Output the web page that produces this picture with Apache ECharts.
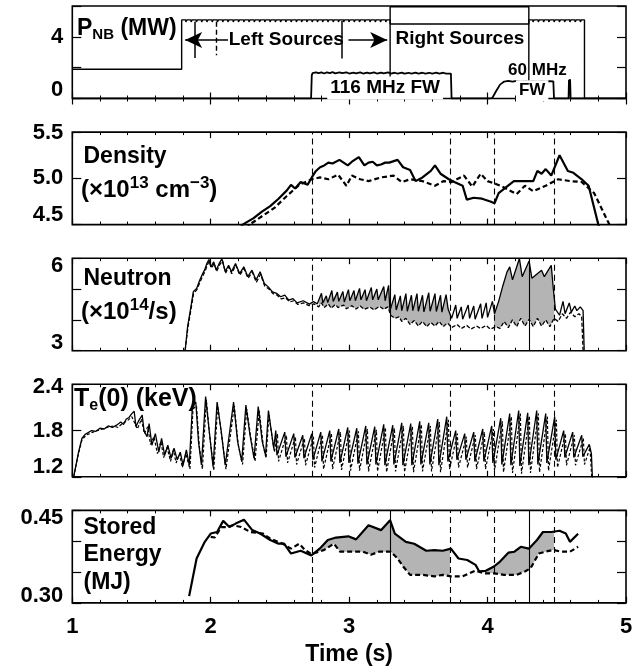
<!DOCTYPE html>
<html><head><meta charset="utf-8">
<script src="https://cdn.jsdelivr.net/npm/echarts@6/dist/echarts.min.js"></script>
<style>html,body{margin:0;padding:0;background:#fff}#c{width:643px;height:670px}</style>
</head><body><div id="c"></div><script>
const FONT = "'Liberation Sans', Arial, Helvetica, sans-serif";

// ---------------- data ----------------
const xTickLabels = [1, 2, 3, 4, 5];
const dashedTimes = [2.727, 3.729, 4.046, 4.481];
const solidTimes = [3.296, 4.298];

// Panel 1: P_NB (MW)
const nbTicks = [0, 4];
const nbLeft = [[1.00,1.90],[1.790,1.90],[1.790,5.10],
[1.820,4.96],[1.828,5.10],[1.858,4.96],[1.866,5.10],[1.896,4.96],[1.904,5.10],[1.934,4.96],[1.942,5.10],
[1.972,4.96],[1.980,5.10],[2.010,4.96],[2.018,5.10],[2.048,4.96],[2.056,5.10],[2.086,4.96],[2.094,5.10],
[2.124,4.96],[2.132,5.10],[2.162,4.96],[2.170,5.10],[2.200,4.96],[2.208,5.10],[2.238,4.96],[2.246,5.10],
[2.276,4.96],[2.284,5.10],[2.314,4.96],[2.322,5.10],[2.352,4.96],[2.360,5.10],[2.390,4.96],[2.398,5.10],
[2.428,4.96],[2.436,5.10],[2.466,4.96],[2.474,5.10],[2.504,4.96],[2.512,5.10],[2.542,4.96],[2.550,5.10],
[2.580,4.96],[2.588,5.10],[2.618,4.96],[2.626,5.10],[2.656,4.96],[2.664,5.10],[2.694,4.96],[2.702,5.10],
[2.732,4.96],[2.740,5.10],[2.770,4.96],[2.778,5.10],[2.808,4.96],[2.816,5.10],[2.846,4.96],[2.854,5.10],
[2.884,4.96],[2.892,5.10],[2.922,4.96],[2.930,5.10],[2.960,4.96],[2.968,5.10],[2.998,4.96],[3.006,5.10],
[3.036,4.96],[3.044,5.10],[3.074,4.96],[3.082,5.10],[3.112,4.96],[3.120,5.10],[3.150,4.96],[3.158,5.10],
[3.188,4.96],[3.196,5.10],[3.226,4.96],[3.234,5.10],[3.264,4.96],[3.272,5.10],
[3.296,4.83],[4.298,5.10],
[4.328,4.96],[4.336,5.10],[4.366,4.96],[4.374,5.10],[4.404,4.96],[4.412,5.10],[4.442,4.96],[4.450,5.10],
[4.480,4.96],[4.488,5.10],[4.518,4.96],[4.526,5.10],[4.556,4.96],[4.564,5.10],[4.594,4.96],[4.602,5.10],
[4.632,4.96],[4.640,5.10],[4.670,4.96],[4.678,5.10],[4.700,0],[5.00,0]];
const nbRight = [[3.296,0],[3.296,5.95],[4.298,5.95],[4.298,0]];
const fw116 = [[1.00,0],[2.725,0],[2.730,1.50],[2.735,1.64],[2.76,1.70],[2.78,1.64],[2.80,1.69],[2.82,1.62],
[2.84,1.70],[2.86,1.65],[2.88,1.71],[2.90,1.63],[2.93,1.69],[2.95,1.64],[2.98,1.70],[3.00,1.62],[3.03,1.68],
[3.05,1.63],[3.08,1.69],[3.10,1.62],[3.13,1.68],[3.15,1.63],[3.18,1.69],[3.20,1.62],[3.23,1.68],[3.25,1.63],
[3.28,1.69],[3.30,1.62],[3.33,1.67],[3.35,1.62],[3.38,1.68],[3.40,1.61],[3.43,1.67],[3.45,1.62],[3.48,1.68],
[3.50,1.62],[3.53,1.67],[3.55,1.61],[3.58,1.67],[3.60,1.62],[3.63,1.68],[3.65,1.62],[3.68,1.67],[3.70,1.61],
[3.735,1.62],[3.740,0],[4.02,0]];
const fw60 = [[4.02,0],[4.035,0.05],[4.06,0.45],[4.09,0.90],[4.12,1.10],[4.15,1.14],[4.18,1.10],[4.21,1.14],
[4.24,1.10],[4.27,1.13],[4.30,1.09],[4.33,1.13],[4.36,1.10],[4.39,1.13],[4.42,1.09],[4.45,1.12],[4.475,1.11],
[4.480,0],[4.585,0],[4.588,1.22],[4.592,0.95],[4.596,1.25],[4.600,0],[5.00,0]];

// Panel 2: Density (1e13 cm^-3)
const densTicks = [4.5, 5.0, 5.5];
const densSolid = [[2.15,4.30],[2.23,4.50],[2.31,4.57],[2.37,4.64],[2.43,4.70],[2.49,4.78],[2.55,4.87],[2.58,4.93],
[2.61,4.89],[2.65,4.96],[2.70,4.93],[2.73,5.01],[2.76,5.08],[2.79,5.12],[2.82,5.14],[2.85,5.17],[2.88,5.16],
[2.93,5.20],[2.96,5.17],[2.99,5.14],[3.02,5.18],[3.07,5.23],[3.11,5.14],[3.14,5.17],[3.17,5.18],[3.20,5.14],
[3.23,5.15],[3.26,5.17],[3.29,5.17],[3.35,5.20],[3.39,5.12],[3.44,5.09],[3.48,4.97],[3.53,5.01],[3.59,5.08],
[3.62,5.14],[3.66,5.05],[3.72,4.99],[3.76,4.96],[3.82,4.92],[3.85,4.77],[3.90,4.79],[3.96,4.78],[4.02,4.75],
[4.05,4.73],[4.08,4.84],[4.13,4.90],[4.19,4.97],[4.33,4.97],[4.36,5.08],[4.39,5.05],[4.42,5.10],[4.46,5.03],
[4.52,5.25],[4.58,5.08],[4.62,5.06],[4.68,4.99],[4.73,4.92],[4.80,4.50],[4.84,4.30]];
const densDashed = [[2.20,4.30],[2.28,4.50],[2.37,4.59],[2.46,4.68],[2.55,4.81],[2.64,4.93],[2.73,4.99],[2.79,5.01],
[2.85,4.99],[2.92,5.04],[2.98,4.92],[3.02,5.03],[3.08,4.99],[3.14,4.97],[3.23,5.01],[3.32,5.03],[3.38,4.96],
[3.44,4.99],[3.53,4.97],[3.62,4.92],[3.68,4.97],[3.74,4.96],[3.83,5.03],[3.89,4.91],[3.95,5.05],[4.00,4.97],
[4.06,4.94],[4.12,4.90],[4.21,4.83],[4.27,4.92],[4.33,4.86],[4.42,4.92],[4.51,4.99],[4.60,4.97],[4.68,4.96],
[4.77,4.84],[4.88,4.50],[4.92,4.35]];

// Panel 3: Neutron (1e14/s)
const neutTicks = [3, 6];
const neutSolid = [[1.815,3.0],[1.833,3.78],[1.853,4.32],[1.874,4.91],[1.898,5.02],[1.921,5.29],[1.942,5.50],
[1.957,5.63],[1.972,5.83],[1.987,5.96],[2.001,5.72],[2.022,5.88],[2.040,5.61],[2.061,5.83],[2.081,5.98],
[2.105,5.56],[2.129,5.77],[2.150,5.56],[2.179,5.83],[2.209,5.50],[2.239,5.72],[2.268,5.40],[2.298,5.61],
[2.327,5.29],[2.357,5.56],[2.387,5.18],[2.416,5.07],[2.446,4.91],[2.476,4.86],[2.505,4.75],[2.535,4.80],
[2.564,4.64],[2.594,4.69],[2.624,4.55],[2.668,4.62],[2.713,4.51],[2.742,4.59],
[2.77,4.52],[2.80,4.86],[2.81,4.55],[2.835,4.78],[2.845,4.56],[2.875,4.95],[2.885,4.60],[2.915,4.90],
[2.925,4.60],[2.955,4.92],[2.965,4.58],[2.995,4.98],[3.005,4.62],[3.035,4.95],[3.045,4.62],[3.075,5.02],
[3.085,4.65],[3.115,4.98],[3.125,4.62],[3.16,5.05],[3.17,4.65],[3.20,5.00],[3.21,4.65],[3.25,5.08],
[3.26,4.62],[3.285,5.12],
[3.295,4.30],[3.33,4.82],[3.34,4.32],[3.37,4.78],[3.38,4.30],[3.41,4.85],[3.42,4.28],[3.45,4.80],[3.46,4.30],
[3.49,4.85],[3.50,4.28],[3.53,4.80],[3.54,4.26],[3.575,4.88],[3.585,4.28],[3.62,4.85],[3.63,4.27],[3.66,4.80],
[3.67,4.25],[3.70,4.82],[3.715,4.35],
[3.74,4.05],[3.77,4.48],[3.78,4.05],[3.81,4.42],[3.82,4.02],[3.86,4.48],[3.87,4.05],[3.90,4.45],[3.91,4.02],
[3.95,4.52],[3.96,4.05],[3.99,4.55],[4.00,4.08],[4.035,4.60],
[4.05,4.20],[4.08,4.60],[4.11,5.10],[4.14,5.55],[4.16,5.72],[4.18,5.30],[4.23,5.99],[4.25,5.40],[4.30,5.91],
[4.32,5.35],[4.39,5.61],[4.41,5.40],[4.46,5.77],[4.475,5.00],[4.49,4.35],
[4.52,4.15],[4.545,4.60],[4.56,4.20],[4.59,4.55],[4.605,4.25],[4.63,4.45],[4.645,4.30],[4.67,4.42],[4.69,4.30],
[4.698,3.0]];
const neutDashed = [[1.815,3.0],[1.835,3.75],[1.855,4.28],[1.876,4.85],[1.90,4.98],[1.925,5.25],[1.945,5.45],
[1.96,5.58],[1.975,5.78],[1.99,5.90],[2.005,5.68],[2.025,5.82],[2.043,5.58],[2.064,5.78],[2.085,5.92],
[2.108,5.52],[2.13,5.72],[2.152,5.50],[2.18,5.78],[2.21,5.45],[2.24,5.66],[2.27,5.35],[2.30,5.55],[2.33,5.22],
[2.36,5.48],[2.39,5.10],[2.42,5.00],[2.45,4.85],[2.48,4.80],[2.51,4.68],[2.54,4.72],[2.57,4.58],[2.60,4.62],
[2.63,4.50],[2.67,4.55],[2.71,4.46],[2.745,4.52],
[2.78,4.42],[2.80,4.55],[2.82,4.40],[2.85,4.52],[2.87,4.38],[2.90,4.50],[2.92,4.40],[2.96,4.48],[2.98,4.36],
[3.02,4.46],[3.05,4.35],[3.08,4.45],[3.11,4.34],[3.15,4.42],[3.18,4.32],[3.22,4.44],[3.25,4.34],[3.28,4.42],
[3.30,4.15],[3.33,4.05],[3.36,4.10],[3.38,3.95],[3.41,4.05],[3.44,3.85],[3.47,3.98],[3.50,3.80],[3.53,3.95],
[3.56,3.78],[3.59,3.92],[3.62,3.80],[3.65,3.95],[3.68,3.78],[3.71,3.90],[3.74,3.75],[3.78,3.85],[3.81,3.72],
[3.85,3.82],[3.88,3.70],[3.92,3.80],[3.95,3.72],[3.99,3.82],[4.02,3.70],[4.06,3.78],[4.09,3.72],[4.12,3.95],
[4.15,3.75],[4.18,4.00],[4.21,3.78],[4.24,4.05],[4.27,3.80],[4.30,4.02],[4.33,3.78],[4.36,4.05],[4.39,3.80],
[4.42,4.00],[4.45,3.78],[4.48,4.05],[4.51,3.95],[4.54,4.20],[4.57,4.05],[4.60,4.25],[4.63,4.10],[4.66,4.20],
[4.68,4.10],[4.69,3.0]];
const neutFill = [[2.78, 3.729], [4.046, 4.481]];

// Panel 4: Te(0) (keV)
const teTicks = [1.2, 1.8, 2.4];
const teSolid = [[1.00,1.10],[1.01,1.20],[1.045,1.52],[1.07,1.70],[1.093,1.75],[1.14,1.80],[1.17,1.79],[1.20,1.83],
[1.23,1.82],[1.26,1.86],[1.29,1.84],[1.32,1.87],[1.35,1.91],[1.37,1.88],[1.39,1.95],[1.41,1.97],[1.43,2.02],
[1.447,2.05],[1.46,1.85],[1.48,1.93],[1.505,2.00],[1.518,1.80],[1.54,1.72],[1.555,1.89],[1.575,1.61],[1.60,1.76],
[1.625,1.52],[1.645,1.70],[1.667,1.48],[1.69,1.61],[1.714,1.44],[1.735,1.57],[1.758,1.42],[1.78,1.52],[1.80,1.35],
[1.824,1.55],[1.845,1.35],[1.868,2.13],[1.892,2.17],[1.912,1.65],[1.933,1.35],[1.963,2.24],[1.987,1.83],
[2.017,1.33],[2.046,2.17],[2.076,1.79],[2.105,1.35],[2.165,2.17],[2.194,1.66],[2.224,1.40],[2.254,2.13],
[2.283,1.75],[2.313,1.44],[2.343,2.11],[2.372,1.66],[2.396,1.48],[2.417,2.06],[2.455,1.57],
[2.470,1.80],[2.478,1.48],[2.535,1.78],[2.543,1.46],[2.600,1.76],[2.608,1.45],[2.665,1.74],[2.673,1.44],
[2.730,1.76],[2.738,1.42],[2.795,1.78],[2.803,1.40],[2.860,1.80],[2.868,1.40],[2.925,1.82],[2.933,1.38],
[2.990,1.84],[2.998,1.38],[3.055,1.83],[3.063,1.37],[3.120,1.86],[3.128,1.36],[3.185,1.85],[3.193,1.36],
[3.250,1.88],[3.258,1.35],[3.315,1.87],[3.323,1.36],[3.380,1.90],[3.388,1.35],[3.445,1.89],[3.453,1.35],
[3.510,1.92],[3.518,1.36],[3.575,1.90],[3.583,1.36],[3.640,1.95],[3.648,1.35],[3.705,1.98],[3.713,1.40],
[3.770,1.80],[3.778,1.42],[3.835,1.76],[3.843,1.42],[3.900,1.78],[3.908,1.40],[3.965,1.82],[3.973,1.40],
[4.030,1.86],[4.038,1.38],[4.095,1.96],[4.103,1.36],[4.160,2.02],[4.168,1.35],[4.225,2.06],[4.233,1.34],
[4.290,2.03],[4.298,1.35],[4.355,2.06],[4.363,1.36],[4.420,2.02],[4.428,1.38],[4.485,1.98],[4.493,1.42],
[4.550,1.80],[4.558,1.45],[4.615,1.78],[4.623,1.45],[4.680,1.74],[4.688,1.46],[4.735,1.62],[4.750,1.50],
[4.757,1.20],[4.76,1.10]];
const teDashed = [[1.01,1.20],[1.045,1.50],[1.07,1.68],[1.10,1.74],[1.15,1.78],[1.20,1.81],[1.25,1.84],[1.30,1.86],
[1.33,1.84],[1.36,1.89],[1.40,1.93],[1.43,1.98],[1.45,1.90],[1.47,1.82],[1.50,1.95],[1.52,1.76],[1.545,1.85],
[1.565,1.62],[1.59,1.72],[1.615,1.50],[1.64,1.66],[1.66,1.45],[1.685,1.58],[1.71,1.40],[1.73,1.55],[1.75,1.38],
[1.775,1.50],[1.795,1.32],[1.82,1.50],[1.85,1.30],[1.872,2.08],[1.897,2.12],[1.917,1.60],[1.94,1.30],[1.968,2.20],
[1.99,1.78],[2.022,1.28],[2.05,2.12],[2.08,1.72],[2.11,1.30],[2.17,2.12],[2.20,1.60],[2.23,1.36],[2.26,2.08],
[2.29,1.70],[2.32,1.40],[2.35,2.06],[2.38,1.60],[2.40,1.44],[2.42,2.00],[2.46,1.52],
[2.482,1.76],[2.490,1.40],[2.547,1.74],[2.555,1.38],[2.612,1.72],[2.620,1.36],[2.677,1.70],[2.685,1.35],
[2.742,1.72],[2.750,1.32],[2.807,1.74],[2.815,1.30],[2.872,1.76],[2.880,1.30],[2.937,1.78],[2.945,1.29],
[3.002,1.80],[3.010,1.28],[3.067,1.79],[3.075,1.28],[3.132,1.82],[3.140,1.27],[3.197,1.81],[3.205,1.27],
[3.262,1.84],[3.270,1.26],[3.327,1.83],[3.335,1.27],[3.392,1.86],[3.400,1.26],[3.457,1.85],[3.465,1.26],
[3.522,1.88],[3.530,1.27],[3.587,1.86],[3.595,1.27],[3.652,1.91],[3.660,1.26],[3.717,1.94],[3.725,1.30],
[3.782,1.76],[3.790,1.32],[3.847,1.72],[3.855,1.32],[3.912,1.74],[3.920,1.30],[3.977,1.78],[3.985,1.30],
[4.042,1.82],[4.050,1.28],[4.107,1.92],[4.115,1.26],[4.172,1.98],[4.180,1.25],[4.237,2.02],[4.245,1.24],
[4.302,1.99],[4.310,1.25],[4.367,2.02],[4.375,1.26],[4.432,1.98],[4.440,1.28],[4.497,1.94],[4.505,1.32],
[4.562,1.76],[4.570,1.35],[4.627,1.74],[4.635,1.35],[4.692,1.70],[4.700,1.36],[4.740,1.58],[4.752,1.20]];

// Panel 5: Stored energy (MJ)
const seTicks = [0.30, 0.45];
const seSolid = [[1.844,0.311],[1.898,0.372],[1.957,0.399],[2.00,0.4125],[2.046,0.415],[2.09,0.433],[2.135,0.423],
[2.18,0.4286],[2.24,0.435],[2.30,0.418],[2.357,0.4125],[2.43,0.402],[2.49,0.396],[2.53,0.396],[2.58,0.380],
[2.65,0.3846],[2.727,0.377],[2.787,0.388],[2.846,0.402],[2.905,0.406],[2.994,0.408],[3.05,0.403],[3.14,0.426],
[3.23,0.418],[3.296,0.434],[3.33,0.4125],[3.41,0.399],[3.47,0.396],[3.557,0.3846],[3.616,0.3857],[3.676,0.3846],
[3.735,0.388],[3.79,0.372],[3.853,0.3696],[3.913,0.3616],[3.94,0.351],[3.987,0.352],[4.046,0.359],[4.09,0.367],
[4.15,0.3814],[4.194,0.383],[4.24,0.391],[4.298,0.388],[4.357,0.402],[4.40,0.415],[4.46,0.415],[4.52,0.417],
[4.565,0.4125],[4.595,0.399],[4.654,0.412]];
const seDashed = [[2.00,0.407],[2.03,0.406],[2.076,0.423],[2.12,0.423],[2.16,0.426],[2.22,0.423],[2.286,0.415],
[2.376,0.4125],[2.43,0.404],[2.52,0.396],[2.58,0.388],[2.64,0.396],[2.68,0.386],[2.727,0.379],[2.82,0.386],
[2.89,0.396],[2.935,0.383],[3.02,0.383],[3.10,0.383],[3.157,0.378],[3.216,0.383],[3.30,0.383],[3.35,0.372],
[3.39,0.359],[3.44,0.3455],[3.53,0.3455],[3.616,0.343],[3.676,0.3455],[3.735,0.343],[3.82,0.343],[3.913,0.3525],
[3.97,0.348],[4.046,0.348],[4.12,0.3455],[4.21,0.3455],[4.27,0.351],[4.31,0.356],[4.37,0.380],[4.416,0.383],
[4.475,0.386],[4.53,0.383],[4.595,0.383],[4.654,0.391]];
const seFill = [[2.76, 3.729], [3.99, 4.481]];

// ---------------- layout / style ----------------
const tops = [6, 132.1, 258.2, 384.3, 510.4];
const H = 92.5;
const panels = [
  {min:0, max:6, interval:2, ticks:nbTicks, dec:0, lo:17, hi:0},
  {min:4.5, max:5.5, interval:0.5, ticks:densTicks, dec:1, lo:20, hi:2},
  {min:3, max:6, interval:1, ticks:neutTicks, dec:0, lo:15, hi:16},
  {min:1.2, max:2.4, interval:0.6, ticks:teTicks, dec:1, lo:20, hi:6},
  {min:0.30, max:0.45, interval:0.05, ticks:seTicks, dec:2, lo:13, hi:15}
];

const grids = tops.map(t => ({left:72.3, right:17, top:t, height:H, show:true,
  borderColor:'#000', borderWidth:1.6, backgroundColor:'rgba(0,0,0,0)'}));

const xAxes = [], yAxes = [];
panels.forEach((p, i) => {
  ['bottom','top'].forEach(pos => {
    const main = (i === 4 && pos === 'bottom');
    xAxes.push({type:'value', gridIndex:i, position:pos, min:1, max:5, interval:1,
      axisLine:{show:false}, splitLine:{show:false},
      axisTick:{show:true, inside:true, length:6, lineStyle:{color:'#000', width:1.2}},
      minorTick:{show:true, splitNumber:5, length:3, lineStyle:{color:'#000', width:1}},
      axisLabel: main ? {show:true, margin:13, color:'#000', fontSize:22, fontWeight:'bold', fontFamily:FONT,
        formatter: v => xTickLabels.indexOf(Math.round(v)) >= 0 && Math.abs(v-Math.round(v))<1e-6 ? String(Math.round(v)) : ''} : {show:false},
      name: main ? 'Time (s)' : '', nameLocation:'middle', nameGap:40,
      nameTextStyle:{color:'#000', fontSize:23, fontWeight:'bold', fontFamily:FONT}
    });
  });
  ['left','right'].forEach(pos => {
    const main = pos === 'left';
    yAxes.push({type:'value', gridIndex:i, position:pos, min:p.min, max:p.max, interval:p.interval,
      axisLine:{show:false}, splitLine:{show:false},
      axisTick:{show:true, inside:true, length:9, lineStyle:{color:'#000', width:1.2}},
      axisLabel: main ? {show:true, margin:9, color:'#000', fontSize:22, fontWeight:'bold', fontFamily:FONT,
        formatter: v => {
          const k = p.ticks.findIndex(t => Math.abs(t - v) < 1e-6);
          if (k < 0) return '';
          const s = p.ticks[k].toFixed(p.dec);
          if (Math.abs(v - p.min) < 1e-6) return '{lo|' + s + '}';
          if (Math.abs(v - p.max) < 1e-6) return '{hi|' + s + '}';
          return s;
        },
        rich:{
          lo:{fontSize:22, fontWeight:'bold', fontFamily:FONT, color:'#000', padding:[0,0,p.lo,0]},
          hi:{fontSize:22, fontWeight:'bold', fontFamily:FONT, color:'#000', padding:[p.hi,0,0,0]}
        }} : {show:false}
    });
  });
});

function vlines(times, type) {
  return times.map(t => ({xAxis:t, lineStyle:{color:'#000', width:1.1, type:type}}));
}
function ml(data, style) {
  return {silent:true, symbol:['none','none'], label:{show:false}, emphasis:{disabled:true}, animation:false,
    lineStyle: style || {color:'#000', width:1.1, type:'solid'}, data:data};
}
function line(i, data, opt) {
  return Object.assign({type:'line', xAxisIndex:2*i, yAxisIndex:2*i, data:data, showSymbol:false, symbol:'none',
    clip:true, silent:true, animation:false, z:3,
    lineStyle:{color:'#000', width:opt.w || 1.5, type:opt.dash || 'solid'}}, opt.extra || {});
}
function interp(arr, t) {
  for (let k = 0; k < arr.length - 1; k++) {
    const a = arr[k], b = arr[k+1];
    if (t >= a[0] && t <= b[0]) {
      if (b[0] === a[0]) return a[1];
      return a[1] + (b[1]-a[1]) * (t-a[0]) / (b[0]-a[0]);
    }
  }
  return arr[arr.length-1][1];
}
function fill(i, upper, lower, regions) {
  return {type:'custom', xAxisIndex:2*i, yAxisIndex:2*i, clip:true, silent:true, animation:false, z:1,
    data:regions,
    renderItem:(params, api) => {
      const a = api.value(0), b = api.value(1);
      const pts = [api.coord([a, interp(upper, a)])];
      upper.forEach(q => { if (q[0] > a && q[0] < b) pts.push(api.coord(q)); });
      pts.push(api.coord([b, interp(upper, b)]));
      pts.push(api.coord([b, interp(lower, b)]));
      for (let k = lower.length - 1; k >= 0; k--) { const q = lower[k]; if (q[0] > a && q[0] < b) pts.push(api.coord(q)); }
      pts.push(api.coord([a, interp(lower, a)]));
      return {type:'polygon', shape:{points:pts}, style:{fill:'#b4b4b4'}};
    }};
}
function txt(coord, text, size, bg) {
  return {coord:coord, symbol:'circle', symbolSize:1, itemStyle:{color:'rgba(0,0,0,0)'},
    label:{show:true, position:'inside', formatter:text, color:'#000', fontSize:size, fontWeight:'bold',
      fontFamily:FONT, backgroundColor: bg ? '#fff' : 'transparent', padding: bg ? [2,3] : 0}};
}

const series = [
  line(0, nbLeft, {w:1.4, extra:{step:'end'}}),
  line(0, nbRight, {w:1.4, extra:{markLine: ml([
    [{coord:[1.887,4.98]},{coord:[1.887,2.63]}],
    [{coord:[2.946,5.05]},{coord:[2.946,2.60]}],
    [{coord:[2.043,4.98], lineStyle:{color:'#000', width:1.4, type:[5,3]}},{coord:[2.043,2.80], lineStyle:{color:'#000', width:1.4, type:[5,3]}}],
    [{coord:[2.125,3.79]},{coord:[1.815,3.79], symbol:'arrow', symbolSize:[12,17]}],
    [{coord:[2.995,3.79]},{coord:[3.275,3.79], symbol:'arrow', symbolSize:[12,17]}]
  ], {color:'#000', width:1.5, type:'solid'})}}),
  line(0, fw116, {w:1.8}),
  line(0, fw60, {w:1.8}),
  {type:'scatter', xAxisIndex:0, yAxisIndex:0, data:[], z:20, silent:true, animation:false,
    markPoint:{silent:true, animation:false, data:[
      txt([2.546,3.79], 'Left Sources', 19),
      txt([3.80,3.88], 'Right Sources', 19),
      txt([3.26,0.68], '116 MHz FW', 19, true),
      txt([4.36,1.85], '60 MHz', 17),
      txt([4.322,0.50], 'FW', 17, true)
    ]}},
  line(1, densSolid, {w:2.2, extra:{markLine: ml(vlines(dashedTimes, [6,4]))}}),
  line(1, densDashed, {w:2.2, dash:[5,3]}),
  fill(2, neutSolid, neutDashed, neutFill),
  line(2, neutSolid, {w:1.3, extra:{markLine: ml(vlines(dashedTimes, [6,4]).concat(vlines(solidTimes, 'solid')))}}),
  line(2, neutDashed, {w:1.3, dash:[4,2]}),
  line(3, teSolid, {w:1.3, extra:{markLine: ml(vlines(dashedTimes, [6,4]))}}),
  line(3, teDashed, {w:1.2, dash:[3,2]}),
  fill(4, seSolid, seDashed, seFill),
  line(4, seSolid, {w:2.2, extra:{markLine: ml(vlines(dashedTimes, [6,4]).concat(vlines(solidTimes, 'solid')))}}),
  line(4, seDashed, {w:2.2, dash:[5,3]})
];

const T = (x, y, text, rich) => ({type:'text', x:x, y:y, z:50, silent:true,
  style:{text:text, rich:rich, verticalAlign:'middle', align:'left', fill:'#000'}});
const base = s => ({fontSize:s, fontWeight:'bold', fontFamily:FONT, color:'#000', fill:'#000'});
const R = {
  m: base(23), t: base(25), l: base(24),
  sub: Object.assign(base(15), {padding:[12,0,0,0]}),
  sube: Object.assign(base(16), {padding:[13,0,0,0]}),
  sup: Object.assign(base(17), {padding:[0,0,14,0]})
};

const graphic = [
  T(77, 29, '{m|P}{sub|NB}{m| (MW)}', R),
  T(83.5, 157, '{m|Density}', R),
  T(81, 190, '{l|(×10}{sup|13}{l| cm}{sup|−3}{l|)}', R),
  T(83.5, 279, '{m|Neutron}', R),
  T(81, 312, '{l|(×10}{sup|14}{l|/s)}', R),
  T(74, 399, '{t|T}{sube|e}{t|(0) (keV)}', R),
  T(83.5, 528, '{m|Stored}', R),
  T(83.5, 555, '{m|Energy}', R),
  T(83.5, 583, '{m|(MJ)}', R)
];

const chart = echarts.init(document.getElementById('c'), null, {renderer:'canvas'});
chart.setOption({animation:false, backgroundColor:'#fff', grid:grids, xAxis:xAxes, yAxis:yAxes, series:series, graphic:graphic});
</script></body></html>
